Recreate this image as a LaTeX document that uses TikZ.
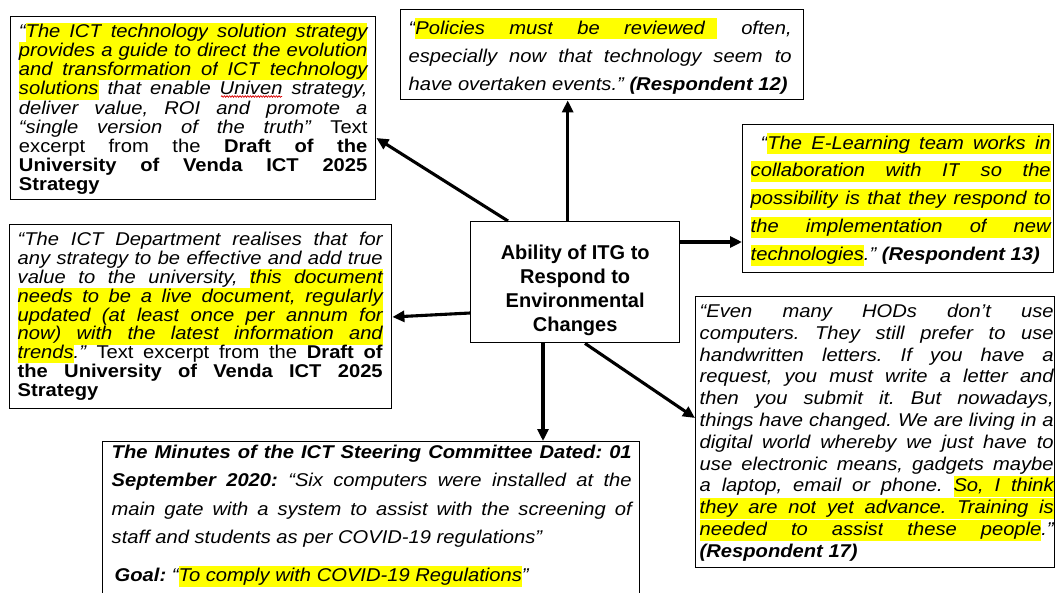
\documentclass[tikz,border=0pt]{standalone}
\usepackage{fontspec}
\setmainfont{Liberation Sans}
\newfontfamily\bxfont{Liberation Sans}[FakeStretch=1.09]
\usetikzlibrary{arrows.meta,decorations.pathmorphing}
\definecolor{hly}{RGB}{255,255,0}

% line geometry
\newdimen\W \newdimen\hlht \newdimen\hldp
\newcommand\ststrut{\vrule height16pt depth5pt width0pt\relax}
\newcommand\jlin[1]{\hbox to\W{\ststrut#1}}
\newcommand\llin[1]{\hbox to\W{\ststrut#1\hskip0pt plus1fill}}
\newcommand\clin[1]{\hbox to\W{\hss\ststrut#1\hss}}

% highlighter: words get a yellow bar, spaces between them yellow leaders
\newcommand\hltw[1]{{\setbox0\hbox{#1}\rlap{\color{hly}\vrule height\hlht depth\hldp width\wd0}\box0}}
\newcommand\hltsp{{\color{hly}\leaders\hrule height\hlht depth\hldp\hskip\fontdimen2\font plus 1fil}}
\newcommand\hltk[1]{{\color{hly}\vrule height\hlht depth\hldp width#1}}
\def\hlt#1{\hlti#1 \hltend}
\def\hlti#1 #2\hltend{\hltw{#1}\def\hltrest{#2}\ifx\hltrest\empty\else\hltsp\expandafter\hlti\hltrest\hltend\fi}

% quote text block: box width, left offset, text width, box height, top kern, pitch, lines
\newcommand\qtext[7]{\hbox to #1{\kern#2\vbox to #4{\hsize=#3\relax\W=#3\relax
  \bxfont\fontsize{18.5pt}{#6}\selectfont\itshape\frenchspacing
  \spaceskip=\fontdimen2\font plus 1fil\relax
  \baselineskip=#6\relax\lineskiplimit=-100pt\relax\lineskip=0pt\relax
  \kern#5\relax#7\vss}\hss}}
% centred title block: width, height, top kern, pitch, lines
\newcommand\ctext[5]{\hbox to #1{\vbox to #2{\hsize=#1\relax\W=#1\relax
  \fontsize{20pt}{#4}\selectfont\bfseries
  \baselineskip=#4\relax\lineskiplimit=-100pt\relax\lineskip=0pt\relax
  \kern#3\relax#5\vss}}}

\begin{document}
\begin{tikzpicture}[x=1pt,y=-1pt,
  qbox/.style={draw=black,line width=1.4pt,inner sep=0pt,anchor=north west,fill=white},
  arr/.style={line width=3.1pt,-{Triangle[length=12pt,width=11pt]}},
  squig/.style={draw=red!85!black,line width=0.7pt,decorate,
    decoration={snake,amplitude=0.8pt,segment length=2.6pt}}]
\fill[white] (0,0) rectangle (1055,592);
\useasboundingbox (0,0) rectangle (1055,592);

% central concept
\node[qbox] (c) at (470,221) {\ctext{209pt}{121pt}{21.3pt}{24.1pt}{%
\clin{Ability of ITG to}
\clin{Respond to}
\clin{Environmental}
\clin{Changes}}};

% strategy excerpt, top left
\node[qbox] (b1) at (10,16) {\qtext{365pt}{8.3pt}{348.4pt}{183pt}{4.7pt}{19.15pt}{%
\hlht=14.4pt\hldp=4.7pt
\jlin{“\hlt{The ICT technology solution strategy}}
\jlin{\hlt{provides a guide to direct the evolution}}
\jlin{\hlt{and transformation of ICT technology}}
\jlin{\hlt{solutions} that enable Univen strategy,}
\jlin{deliver value, ROI and promote a}
\jlin{“single version of the truth” \textup{Text}}
\jlin{\textup{excerpt from the \textbf{Draft of the}}}
\jlin{\textup{\textbf{University of Venda ICT 2025}}}
\llin{\textup{\textbf{Strategy}}}}};

% respondent 12, top
\node[qbox] (b2) at (400,9) {\qtext{403pt}{8pt}{383pt}{90pt}{8.3pt}{28.35pt}{%
\hlht=16pt\hldp=5pt
\jlin{“\hlt{Policies must be reviewed}\hltk{12pt} often,}
\jlin{especially now that technology seem to}
\llin{have overtaken events.” \textbf{(Respondent 12)}}}};

% respondent 13, top right
\node[qbox] (b3) at (742,124) {\qtext{311pt}{8pt}{300pt}{148pt}{8.3pt}{27.9pt}{%
\hlht=16pt\hldp=5pt
\jlin{\kern10pt“\hlt{The E-Learning team works in}}
\jlin{\hlt{collaboration with IT so the}}
\jlin{\hlt{possibility is that they respond to}}
\jlin{\hlt{the implementation of new}}
\llin{\hlt{technologies}.” \textbf{(Respondent 13)}}}};

% strategy excerpt, middle left
\node[qbox] (b4) at (9,224) {\qtext{382pt}{8pt}{365pt}{184pt}{5pt}{18.85pt}{%
\hlht=14.2pt\hldp=4.65pt
\jlin{“The ICT Department realises that for}
\jlin{any strategy to be effective and add true}
\jlin{value to the university, \hlt{this document}}
\jlin{\hlt{needs to be a live document, regularly}}
\jlin{\hlt{updated (at least once per annum for}}
\jlin{\hlt{now) with the latest information and}}
\jlin{\hlt{trends}.” \textup{Text excerpt from the \textbf{Draft of}}}
\jlin{\textup{\textbf{the University of Venda ICT 2025}}}
\llin{\textup{\textbf{Strategy}}}}};

% respondent 17, bottom right
\node[qbox] (b5) at (695,296) {\qtext{359pt}{4pt}{354pt}{271pt}{4.7pt}{21.8pt}{%
\hlht=15.8pt\hldp=5.2pt
\jlin{“Even many HODs don’t use}
\jlin{computers. They still prefer to use}
\jlin{handwritten letters. If you have a}
\jlin{request, you must write a letter and}
\jlin{then you submit it. But nowadays,}
\jlin{things have changed. We are living in a}
\jlin{digital world whereby we just have to}
\jlin{use electronic means, gadgets maybe}
\jlin{a laptop, email or phone. \hlt{So, I think}}
\jlin{\hlt{they are not yet advance. Training is}}
\jlin{\hlt{needed to assist these people}.”}
\llin{\textbf{(Respondent 17)}}}};

% steering committee minutes, bottom
\node[qbox] (b6) at (102,441) {\qtext{537pt}{9pt}{520pt}{160pt}{0.5pt}{28.4pt}{%
\hlht=16pt\hldp=5pt
\jlin{\textbf{The Minutes of the ICT Steering Committee Dated: 01}}
\jlin{\textbf{September 2020:} “Six computers were installed at the}
\jlin{main gate with a system to assist with the screening of}
\llin{staff and students as per COVID-19 regulations”}
\kern9.8pt
\llin{\kern3pt\textbf{Goal:} “\hlt{To comply with COVID-19 Regulations}”}}};

% spell-check mark under "Univen"
\draw[squig] ([xshift=211pt,yshift=-80.5pt]b1.north west) -- ++(61,0);

% connectors
\coordinate (cu) at ([xshift=-7.5pt]c.north);
\coordinate (cr) at ([yshift=-21pt]c.north east);
\coordinate (cl) at ([yshift=-92pt]c.north west);
\coordinate (cd) at ([xshift=73pt]c.south west);
\draw[arr] ([xshift=38pt]c.north west) -- ([yshift=-122pt]b1.north east);
\draw[arr] (cu) -- (cu |- b2.south);
\draw[arr] (cr) -- (cr -| b3.west);
\draw[arr] (cl) -- ([yshift=-93pt]b4.north east);
\draw[arr] (cd) -- (cd |- b6.north);
\draw[arr] ([xshift=115pt]c.south west) -- ([yshift=-122pt]b5.north west);
\end{tikzpicture}
\end{document}
